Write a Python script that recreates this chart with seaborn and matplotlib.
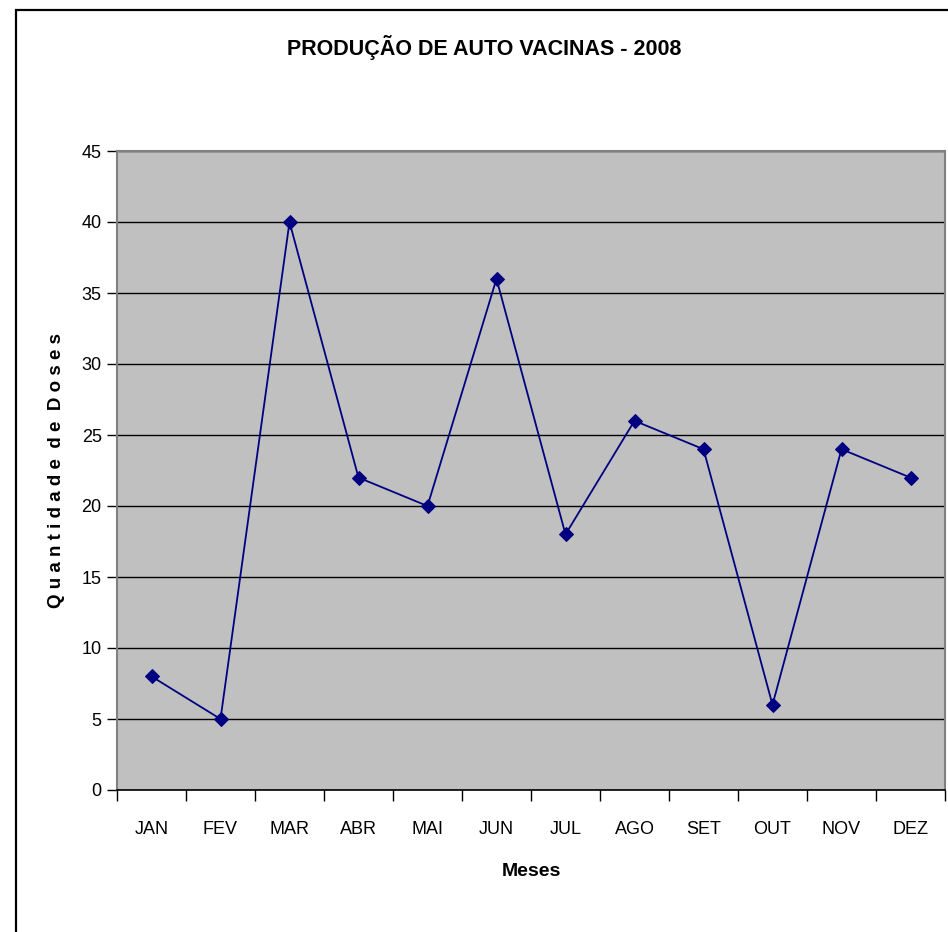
import numpy as np
import pandas as pd
import matplotlib
matplotlib.use("Agg")
import matplotlib.pyplot as plt
import matplotlib.patches as mpatches
from matplotlib.ticker import FixedLocator, MultipleLocator
import seaborn as sns

MONTHS = ["JAN", "FEV", "MAR", "ABR", "MAI", "JUN", "JUL", "AGO", "SET", "OUT", "NOV", "DEZ"]
DOSES = [8, 5, 40, 22, 20, 36, 18, 26, 24, 6, 24, 22]

TITLE = "PRODUÇÃO DE AUTO VACINAS - 2008"
XLABEL = "Meses"
YLABEL = "Q u a n t i d a d e  d e  D o s e s"

LINE_COLOR = "#000080"
PLOT_BG = "#C0C0C0"

sns.set_style("white")
plt.rcParams["font.family"] = ["Liberation Sans Narrow", "Liberation Sans", "DejaVu Sans"]
plt.rcParams["text.color"] = "black"
plt.rcParams["axes.labelcolor"] = "black"
plt.rcParams["xtick.color"] = "black"
plt.rcParams["ytick.color"] = "black"

df = pd.DataFrame({"mes": MONTHS, "doses": DOSES})

fig = plt.figure(figsize=(9.48, 9.32), dpi=100)
ax = fig.add_axes([117 / 948, 1 - 790 / 932, 828 / 948, 639 / 932])
ax.set_facecolor(PLOT_BG)

# borda da área do gráfico
fig.patches.append(mpatches.Rectangle((16 / 948, -0.1), 1.2, 1.1 - 10 / 932,
                                      transform=fig.transFigure, fill=False,
                                      edgecolor="black", linewidth=1.6, zorder=0))

sns.lineplot(data=df, x="mes", y="doses", ax=ax, color=LINE_COLOR, linewidth=1.3,
             marker="D", markersize=7, markeredgecolor=LINE_COLOR, sort=False)

ax.set_xlim(-0.5, len(MONTHS) - 0.5)
ax.set_ylim(0, 45)
ax.yaxis.set_major_locator(MultipleLocator(5))
ax.grid(axis="y", color="black", linewidth=1)
ax.grid(axis="x", visible=False)
ax.set_axisbelow(True)

ax.set_xticks(range(len(MONTHS)))
ax.set_xticklabels(MONTHS, fontsize=13)
ax.xaxis.set_minor_locator(FixedLocator(np.arange(-0.5, len(MONTHS), 1)))
ax.tick_params(axis="x", which="major", length=0, pad=22)
ax.tick_params(axis="x", which="minor", length=8, width=1, color="black", direction="out", bottom=True)
ax.tick_params(axis="y", length=7, width=1, color="black", direction="out", left=True, labelsize=13, pad=4)

for s in ["left", "top", "right"]:
    ax.spines[s].set_color("#808080")
    ax.spines[s].set_linewidth(1.5)
ax.spines["bottom"].set_color("black")
ax.spines["bottom"].set_linewidth(1.2)

ax.set_xlabel(XLABEL, fontsize=14, fontweight="bold", labelpad=18)
ax.set_ylabel(YLABEL, fontsize=13.5, fontweight="bold", labelpad=12)
fig.text(484 / 948, 1 - 48 / 932, TITLE, ha="center", va="center", fontsize=15.5, fontweight="bold")

plt.savefig("out.png", dpi=100)
plt.close()
